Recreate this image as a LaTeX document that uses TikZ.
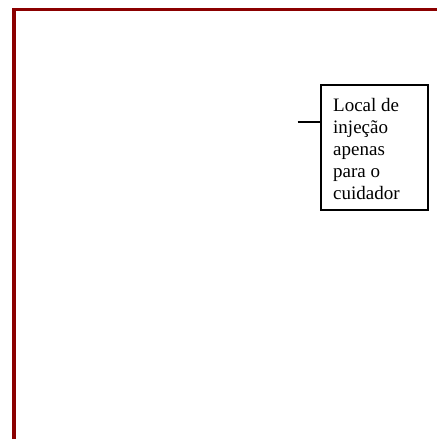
\documentclass[tikz,border=0pt]{standalone}
\usepackage{fontspec}
\setmainfont{Liberation Serif}
\definecolor{framered}{RGB}{139,0,0}
\tikzset{
  frameline/.style={draw=framered, line width=3.8pt, line cap=butt},
  notebox/.style={draw=black, line width=1.8pt, rectangle, inner sep=0pt,
    minimum width=107pt, minimum height=125pt},
  notetext/.style={inner sep=0pt, align=left, anchor=base west,
    font=\fontsize{19}{21.9}\selectfont},
  leader/.style={draw=black, line width=1.4pt}
}
\begin{document}
\begin{tikzpicture}[x=1pt,y=1pt]
  \useasboundingbox (0,0) rectangle (437,-439);
  % corner frame
  \coordinate (fbottom) at (14,-439);
  \coordinate (fcorner) at (14,-9.5);
  \coordinate (fright) at (437,-9.5);
  \draw[frameline] (fbottom) -- ([yshift=1.9pt]fcorner) ;
  \draw[frameline] ([xshift=-2pt]fcorner) -- (fright);
  % callout box; the base anchor of the text sits on its last line
  \node[notebox] (box) at (374.5,-147.5) {};
  \node[notetext] (label) at (333,-199)
    {Local de\\injeção\\apenas\\para o\\cuidador};
  \coordinate (lead) at (297.5,-122);
  \draw[leader] (lead) -- (lead -| box.west);
\end{tikzpicture}
\end{document}
